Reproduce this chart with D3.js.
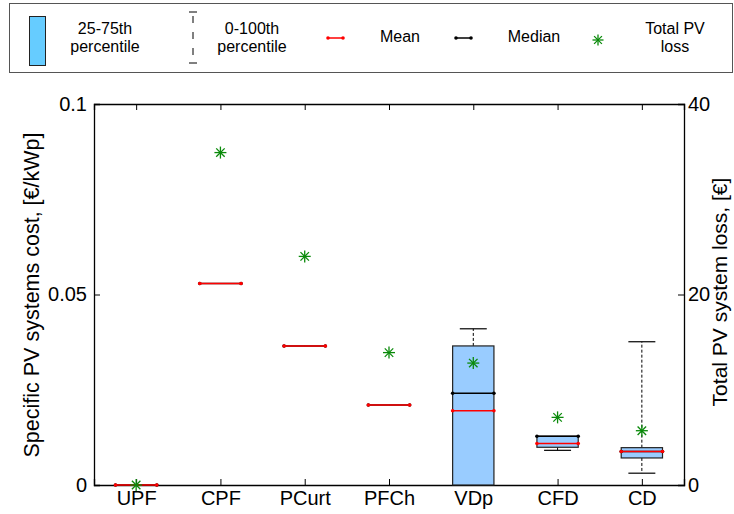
<!DOCTYPE html>
<html>
<head>
<meta charset="utf-8">
<script src="https://cdn.jsdelivr.net/npm/d3@7"></script>
<style>
body { margin: 0; background: #fff; }
text { font-family: "Liberation Sans", Arial, sans-serif; }
</style>
</head>
<body>
<script>
var categories = ['UPF', 'CPF', 'PCurt', 'PFCh', 'VDp', 'CFD', 'CD']
var q1 = [0, 0.0529, 0.0365, 0.021, 0, 0.0099, 0.0071]
var q3 = [0, 0.0529, 0.0365, 0.021, 0.0365, 0.0128, 0.0098]
var minV = [0, 0.0529, 0.0365, 0.021, 0, 0.0091, 0.0031]
var maxV = [0, 0.0529, 0.0365, 0.021, 0.041, 0.0128, 0.0376]
var means = [0, 0.0529, 0.0365, 0.021, 0.0195, 0.0109, 0.0088]
var medians = [0, 0.0529, 0.0365, 0.021, 0.0241, 0.0128, 0.0088]
var pvLoss = [0, 34.9, 24.0, 13.9, 12.8, 7.1, 5.7]
var leftTicks = [0, 0.05, 0.1]
var rightTicks = [0, 20, 40]

var W = 734, H = 514
var m = { left: 94, right: 684, top: 104, bottom: 485 }

var svg = d3.select('body').append('svg')
	.attr('width', W).attr('height', H)

var x = d3.scaleLinear().domain([0.5, 7.5]).range([m.left, m.right])
var y = d3.scaleLinear().domain([0, 0.1]).range([m.bottom, m.top])
var y2 = d3.scaleLinear().domain([0, 40]).range([m.bottom, m.top])
var step = x(2) - x(1)
var bw = step * 0.245
var cw = step * 0.16

var data = categories.map(function(c, i) {
	return { c: c, i: i + 1, q1: q1[i], q3: q3[i], min: minV[i], max: maxV[i],
		mean: means[i], median: medians[i], loss: pvLoss[i] }
})

// axes
var fmt = function(d) { return d === 0 ? '0' : String(d) }
svg.append('g').attr('transform', 'translate(' + m.left + ',0)')
	.call(d3.axisLeft(y).tickValues(leftTicks).tickSize(-6).tickPadding(7).tickFormat(fmt))
svg.append('g').attr('transform', 'translate(' + m.right + ',0)')
	.call(d3.axisRight(y2).tickValues(rightTicks).tickSize(-6).tickPadding(4))
svg.append('g').attr('transform', 'translate(0,' + m.bottom + ')')
	.call(d3.axisBottom(x).tickValues(d3.range(1, 8)).tickSize(-6).tickPadding(6)
		.tickFormat(function(d) { return categories[d - 1] }))
svg.append('g').attr('transform', 'translate(0,' + m.top + ')')
	.call(d3.axisTop(x).tickValues(d3.range(1, 8)).tickSize(-6).tickFormat(''))
svg.selectAll('.domain').attr('stroke', '#000').attr('stroke-width', 1.3)
svg.selectAll('.tick line').attr('stroke', '#000')
svg.selectAll('.tick text').attr('font-size', 20).attr('fill', '#000')
	.style('font-family', '"Liberation Sans", Arial, sans-serif')

svg.append('text')
	.attr('transform', 'translate(39,295) rotate(-90)')
	.attr('text-anchor', 'middle').attr('font-size', 21.5)
	.text('Specific PV systems cost, [€/kWp]')
svg.append('text')
	.attr('transform', 'translate(727,292) rotate(-90)')
	.attr('text-anchor', 'middle').attr('font-size', 21)
	.text('Total PV system loss, [€]')

// boxes
var g = svg.append('g')
var bx = g.selectAll('g.box').data(data).enter().append('g')

bx.append('line')
	.attr('x1', function(d) { return x(d.i) }).attr('x2', function(d) { return x(d.i) })
	.attr('y1', function(d) { return y(d.q3) }).attr('y2', function(d) { return y(d.max) })
	.attr('stroke', '#000').attr('stroke-dasharray', '3,2')
bx.append('line')
	.attr('x1', function(d) { return x(d.i) }).attr('x2', function(d) { return x(d.i) })
	.attr('y1', function(d) { return y(d.q1) }).attr('y2', function(d) { return y(d.min) })
	.attr('stroke', '#000').attr('stroke-dasharray', '3,2')
bx.filter(function(d) { return d.max > d.q3 }).append('line')
	.attr('x1', function(d) { return x(d.i) - cw }).attr('x2', function(d) { return x(d.i) + cw })
	.attr('y1', function(d) { return y(d.max) }).attr('y2', function(d) { return y(d.max) })
	.attr('stroke', '#000').attr('stroke-width', 1.2)
bx.filter(function(d) { return d.min < d.q1 }).append('line')
	.attr('x1', function(d) { return x(d.i) - cw }).attr('x2', function(d) { return x(d.i) + cw })
	.attr('y1', function(d) { return y(d.min) }).attr('y2', function(d) { return y(d.min) })
	.attr('stroke', '#000').attr('stroke-width', 1.2)
bx.filter(function(d) { return d.q3 > d.q1 }).append('rect')
	.attr('x', function(d) { return x(d.i) - bw }).attr('width', bw * 2)
	.attr('y', function(d) { return y(d.q3) })
	.attr('height', function(d) { return y(d.q1) - y(d.q3) })
	.attr('fill', '#99ccff').attr('stroke', '#222').attr('stroke-width', 1.2)

function statLine(sel, key, col) {
	sel.append('line')
		.attr('x1', function(d) { return x(d.i) - bw }).attr('x2', function(d) { return x(d.i) + bw })
		.attr('y1', function(d) { return y(d[key]) }).attr('y2', function(d) { return y(d[key]) })
		.attr('stroke', col).attr('stroke-width', 1.5)
	;[-1, 1].forEach(function(s) {
		sel.append('circle')
			.attr('cx', function(d) { return x(d.i) + s * bw })
			.attr('cy', function(d) { return y(d[key]) })
			.attr('r', 1.8).attr('fill', col)
	})
}
statLine(bx, 'median', '#000')
statLine(bx, 'mean', '#ff0000')

// stars
function star(sel, cx, cy, r) {
	for (var k = 0; k < 4; k++) {
		var a = k * Math.PI / 4
		sel.append('line')
			.attr('x1', cx - r * Math.cos(a)).attr('y1', cy - r * Math.sin(a))
			.attr('x2', cx + r * Math.cos(a)).attr('y2', cy + r * Math.sin(a))
			.attr('stroke', '#0a8a0a').attr('stroke-width', 1.3)
	}
}
data.forEach(function(d) { star(g, x(d.i), y2(d.loss), 6) })

// legend
var lg = svg.append('g')
lg.append('rect').attr('x', 9.5).attr('y', 3.5).attr('width', 723).attr('height', 69)
	.attr('fill', '#fff').attr('stroke', '#555').attr('stroke-width', 1)
lg.append('rect').attr('x', 29.5).attr('y', 16.5).attr('width', 16).attr('height', 49)
	.attr('fill', '#66ccff').attr('stroke', '#222').attr('stroke-width', 1)
lg.append('line').attr('x1', 193).attr('x2', 193).attr('y1', 12).attr('y2', 63)
	.attr('stroke', '#000').attr('stroke-dasharray', '0,4,7,5')
lg.append('line').attr('x1', 189).attr('x2', 197).attr('y1', 12).attr('y2', 12).attr('stroke', '#000')
lg.append('line').attr('x1', 189).attr('x2', 197).attr('y1', 63).attr('y2', 63).attr('stroke', '#000')
;[['#ff0000', 328], ['#000', 456]].forEach(function(p) {
	lg.append('line').attr('x1', p[1]).attr('x2', p[1] + 15).attr('y1', 38).attr('y2', 38)
		.attr('stroke', p[0]).attr('stroke-width', 1.5)
	lg.append('circle').attr('cx', p[1]).attr('cy', 38).attr('r', 1.8).attr('fill', p[0])
	lg.append('circle').attr('cx', p[1] + 15).attr('cy', 38).attr('r', 1.8).attr('fill', p[0])
})
star(lg, 598, 40, 5.5)
var legTexts = [
	{ x: 105, lines: ['25-75th', 'percentile'] },
	{ x: 252, lines: ['0-100th', 'percentile'] },
	{ x: 400, lines: ['Mean'] },
	{ x: 534, lines: ['Median'] },
	{ x: 675, lines: ['Total PV', 'loss'] }
]
legTexts.forEach(function(t) {
	var y0 = t.lines.length === 2 ? 30 : 38
	t.lines.forEach(function(s, k) {
		lg.append('text').attr('x', t.x).attr('y', y0 + k * 18)
			.attr('text-anchor', 'middle').attr('dominant-baseline', 'middle')
			.attr('font-size', 16).text(s)
	})
})
</script>
</body>
</html>
